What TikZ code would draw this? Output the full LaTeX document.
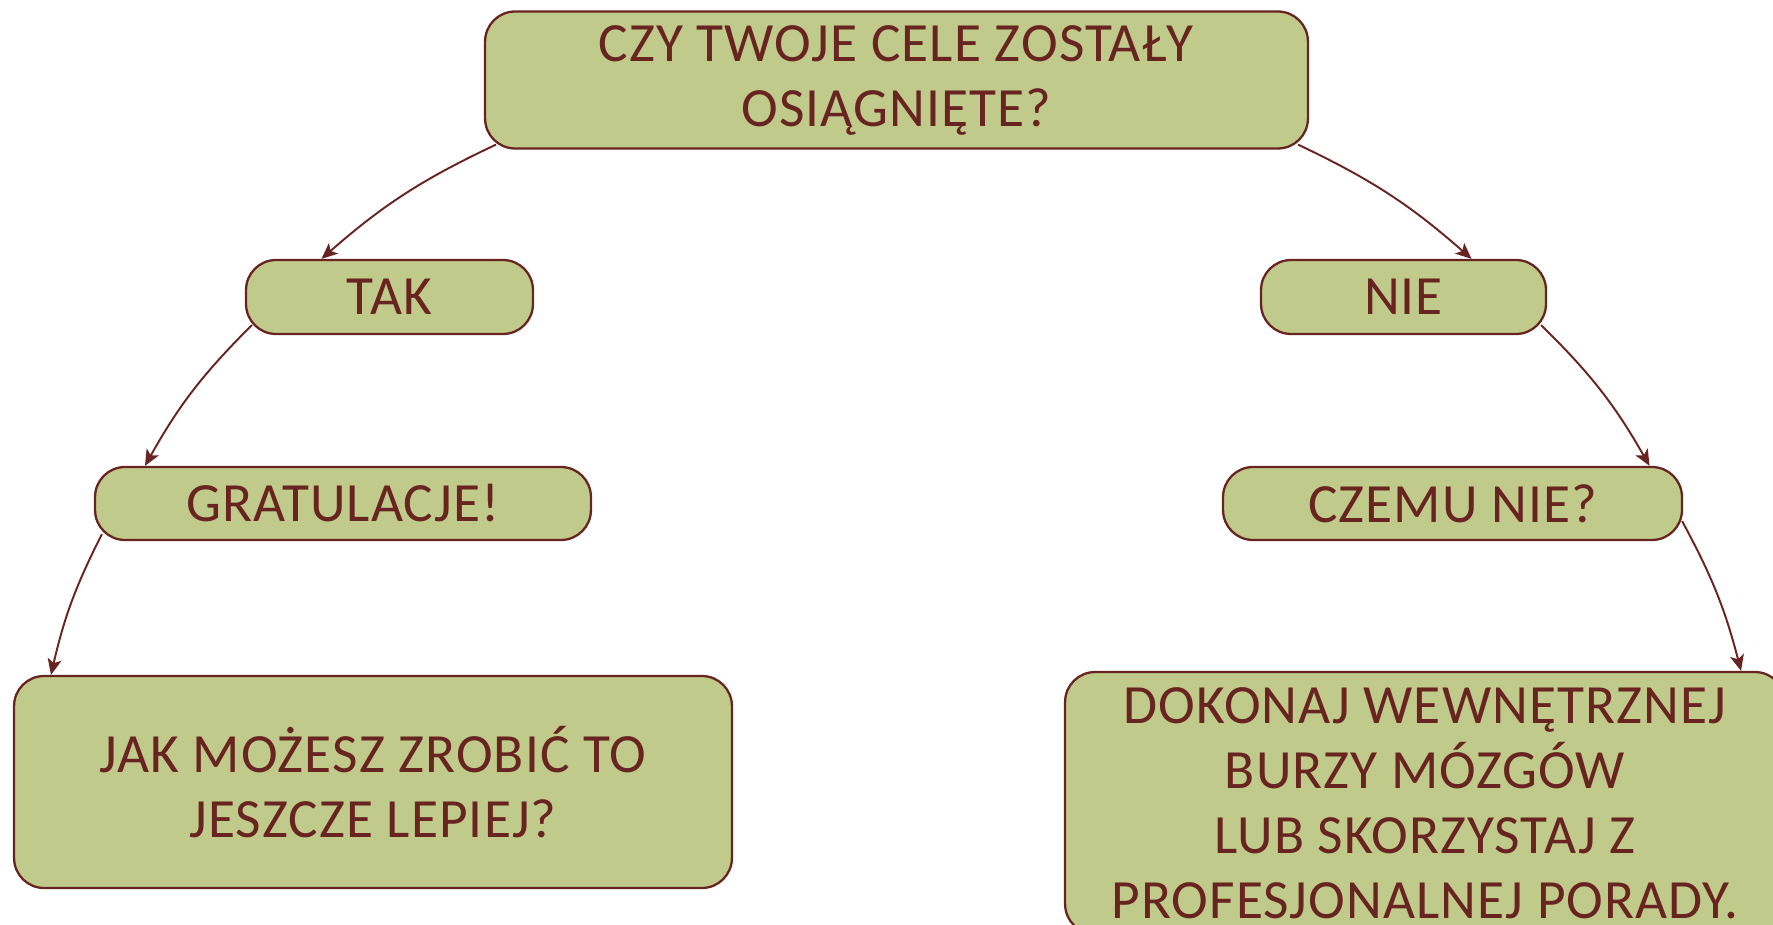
\documentclass[tikz,border=0pt]{standalone}
\usepackage{fontspec}
\setmainfont{Carlito}[LetterSpace=2.0]
\usepackage{xcolor}
\usetikzlibrary{arrows.meta}
\definecolor{boxfill}{RGB}{192,203,139}
\definecolor{boxline}{RGB}{104,36,32}

\begin{document}
\begin{tikzpicture}[
  x=0.02cm, y=0.02cm,
  box/.style={draw=boxline, fill=boxfill, line width=1.3pt, rounded corners=0.6cm,
              align=center, text=boxline, inner sep=0pt,
              font=\fontsize{31.5}{37}\selectfont},
  arr/.style={-{Stealth[length=3.2mm,width=2.8mm,inset=0.8mm]}, draw=boxline, line width=1.1pt}
]
\useasboundingbox (0,0) rectangle (1773,924);
\node[box, minimum width=16.46cm, minimum height=2.74cm] (goals) at (896.5,844) {CZY TWOJE CELE ZOSTAŁY\\OSIĄGNIĘTE?};
\node[box, minimum width=5.74cm, minimum height=1.48cm] (tak)   at (389.5,627)  {TAK};
\node[box, minimum width=5.70cm, minimum height=1.48cm] (nie)   at (1403.5,627) {NIE};
\node[box, minimum width=9.92cm, minimum height=1.46cm] (grat)  at (343,420.5)  {GRATULACJE!};
\node[box, minimum width=9.18cm, minimum height=1.46cm] (czemu) at (1452.5,420.5) {CZEMU NIE?};
\node[box, minimum width=14.36cm, minimum height=4.24cm] (jak)  at (373,142)    {JAK MOŻESZ ZROBIĆ TO\\JESZCZE LEPIEJ?};
\node[box, minimum width=14.40cm, minimum height=5.24cm] (dok)  at (1425,121)   {DOKONAJ WEWNĘTRZNEJ\\BURZY MÓZGÓW\\LUB SKORZYSTAJ Z\\PROFESJONALNEJ PORADY.};

\draw[arr] ([shift={(12,5)}]goals.south west)  to[bend right=8] ([shift={(-68,0)}]tak.north);
\draw[arr] ([shift={(-11,5)}]goals.south east) to[bend left=8]  ([shift={(68,0)}]nie.north);
\draw[arr] ([shift={(7,10)}]tak.south west)    to[bend right=8] ([shift={(-198,0)}]grat.north);
\draw[arr] ([shift={(-6,10)}]nie.south east)   to[bend left=8]  ([shift={(197,0)}]czemu.north);
\draw[arr] ([shift={(8,7)}]grat.south west)    to[bend right=7] ([shift={(-322,0)}]jak.north);
\draw[arr] ([shift={(-1,20)}]czemu.south east) to[bend left=7]  ([shift={(316,0)}]dok.north);
\end{tikzpicture}
\end{document}
